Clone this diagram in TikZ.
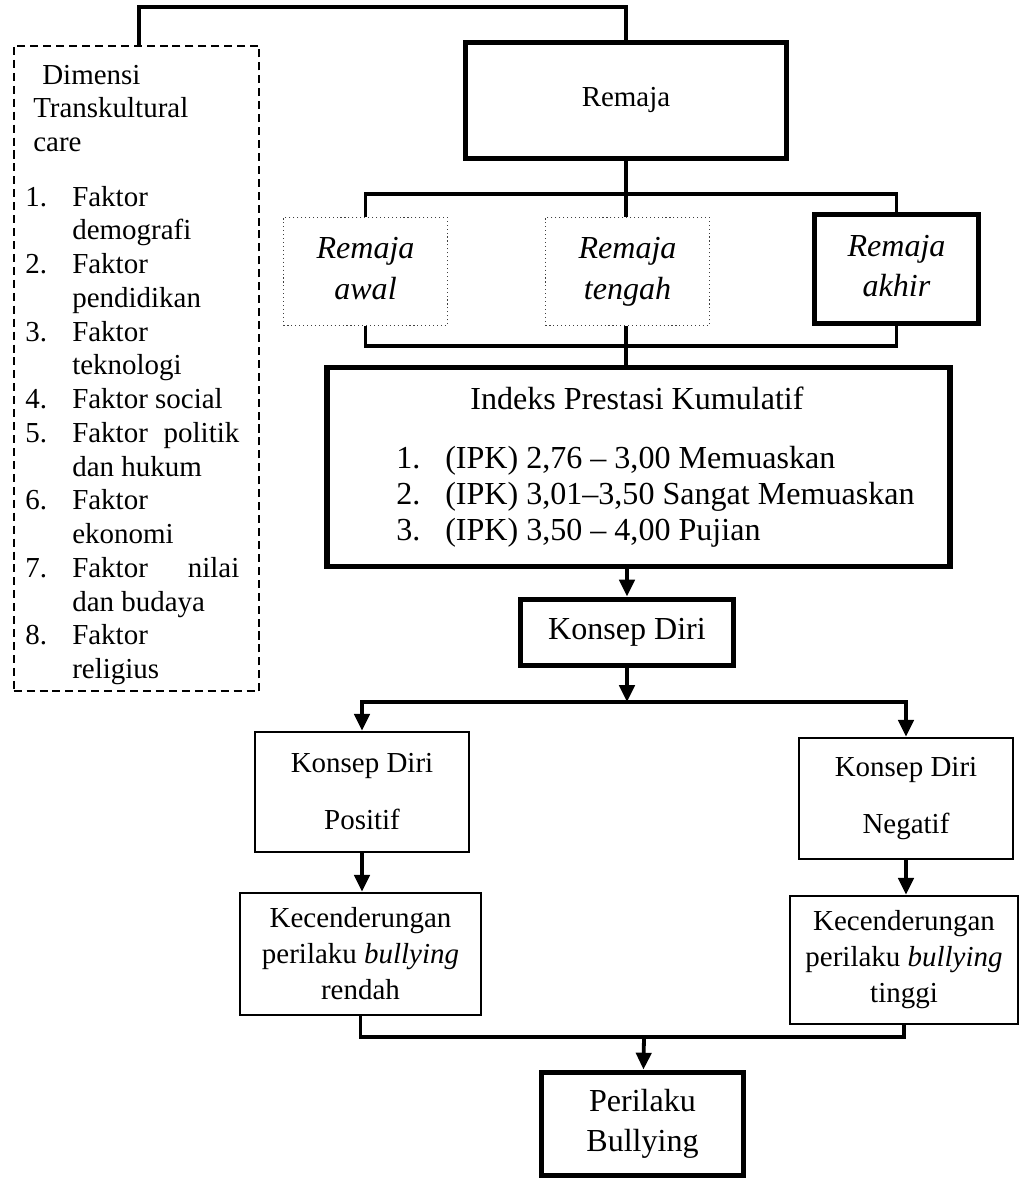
\documentclass[tikz,border=0pt]{standalone}
\usepackage{fontspec}
\setmainfont{Liberation Serif}
\usetikzlibrary{arrows.meta}

\newcommand{\txtfont}{\fontsize{20.6}{24}\selectfont}
\newcommand{\bigtxt}{\fontsize{22.8}{26}\selectfont}

\tikzset{
	connector/.style={line width=2.7pt},
	arrowline/.style={line width=2.7pt, -{Triangle[width=0.38cm,length=0.42cm]}},
	thickbox/.style={rectangle, draw, line width=4.2pt, text centered, align=center},
	thinbox/.style={rectangle, draw, line width=1.8pt, text centered, align=center},
	dotbox/.style={rectangle, draw=black!75, dotted, line width=0.8pt, text centered, align=center},
	dashbox/.style={rectangle, draw, dash pattern=on 5.7pt off 3.5pt, line width=1.3pt},
}

\begin{document}
\begin{tikzpicture}[x=0.025cm, y=-0.025cm]
		
		\useasboundingbox (0,0) rectangle (1019,1180);
		
		%Dimensi box
		\node (dimensi) at (136.5,368.5) [dashbox, minimum width=6.14cm, minimum height=16.14cm]{};
		\node (dimensiText) at (25,84) [anchor=base west, inner sep=0pt, font=\txtfont]{\parbox[t]{6cm}{%
			\hspace*{0.425cm}Dimensi\\
			\hspace*{0.2cm}Transkultural\\
			\hspace*{0.2cm}care\\[0.52cm]
			\makebox[1.175cm][l]{1.}Faktor\\
			\hspace*{1.175cm}demografi\\
			\makebox[1.175cm][l]{2.}Faktor\\
			\hspace*{1.175cm}pendidikan\\
			\makebox[1.175cm][l]{3.}Faktor\\
			\hspace*{1.175cm}teknologi\\
			\makebox[1.175cm][l]{4.}Faktor social\\
			\makebox[1.175cm][l]{5.}\makebox[4.175cm][s]{Faktor politik}\\
			\hspace*{1.175cm}dan hukum\\
			\makebox[1.175cm][l]{6.}Faktor\\
			\hspace*{1.175cm}ekonomi\\
			\makebox[1.175cm][l]{7.}\makebox[4.175cm][s]{Faktor nilai}\\
			\hspace*{1.175cm}dan budaya\\
			\makebox[1.175cm][l]{8.}Faktor\\
			\hspace*{1.175cm}religius}};
		
		%Remaja
		\node (remaja) at (626,100.5) [thickbox, minimum width=8.025cm, minimum height=2.9cm, font=\txtfont]{\raisebox{0.17cm}{Remaja}};
		
		%Three stages
		\node (awal) at (365.5,271.5) [dotbox, minimum width=4.1cm, minimum height=2.7cm, font=\bigtxt\itshape]{Remaja\strut\\[0.1cm]awal\strut};
		\node (tengah) at (627.5,271.5) [dotbox, minimum width=4.1cm, minimum height=2.7cm, font=\bigtxt\itshape]{Remaja\strut\\[0.1cm]tengah\strut};
		\node (akhir) at (896.5,269) [thickbox, minimum width=4.1cm, minimum height=2.725cm, font=\bigtxt\itshape]{Remaja\strut\\[0.1cm]akhir\strut};
		
		%IPK box
		\node (ipk) at (638.5,467) [thickbox, minimum width=15.55cm, minimum height=4.975cm]{};
		\node (ipkTitle) at (637,398) [font=\bigtxt]{Indeks Prestasi Kumulatif};
		\node (ipkList) at (396,468) [anchor=base west, inner sep=0pt, font=\bigtxt]{\parbox[t]{13cm}{\baselineskip=0.9cm
			\makebox[1.225cm][l]{1.}(IPK) 2,76 – 3,00 Memuaskan\\
			\makebox[1.225cm][l]{2.}(IPK) 3,01–3,50 Sangat Memuaskan\\
			\makebox[1.225cm][l]{3.}(IPK) 3,50 – 4,00 Pujian}};
		
		%Konsep diri
		\node (konsep) at (627,632.5) [thickbox, minimum width=5.325cm, minimum height=1.65cm, font=\bigtxt]{Konsep Diri};
		\node (positif) at (362,792) [thinbox, minimum width=5.35cm, minimum height=3cm, font=\fontsize{20.6}{40.5}\selectfont]{Konsep Diri\\Positif};
		\node (negatif) at (906,798.5) [thinbox, minimum width=5.35cm, minimum height=3.025cm, font=\fontsize{20.6}{40.5}\selectfont]{Konsep Diri\\Negatif};
		
		%Kecenderungan
		\node (rendah) at (360.5,954) [thinbox, minimum width=6.025cm, minimum height=3.05cm, font=\fontsize{20.6}{25.6}\selectfont]{Kecenderungan\\perilaku \textit{bullying}\\rendah};
		\node (tinggi) at (904,960) [thinbox, minimum width=5.7cm, minimum height=3.2cm, font=\fontsize{20.6}{25.6}\selectfont]{Kecenderungan\\perilaku \textit{bullying}\\tinggi};
		
		%Perilaku bullying
		\node (bullying) at (642.5,1124) [thickbox, minimum width=5.05cm, minimum height=2.575cm, font=\fontsize{22.8}{28.5}\selectfont]{Perilaku\\Bullying};
		
		%Connectors
		\coordinate (topL) at (139,7);
		\coordinate (topR) at (626,7);
		\coordinate (splitA) at (626,194);
		\coordinate (joinA) at (626,346);
		\coordinate (splitB) at (627,702);
		\coordinate (joinB) at (644,1037);
		
		\draw[connector] (dimensi.north -| topL) -- (topL) -- (topR) -- (remaja.north);
		\draw[connector] (remaja) -- (splitA);
		\draw[connector] (awal.north) |- (splitA) -| (akhir.north);
		\draw[connector] (splitA) -- (tengah.north -| splitA);
		\draw[connector] (awal.south) |- (joinA) -| (akhir.south);
		\draw[connector] (tengah.south -| joinA) -- (joinA) -- (ipk.north -| joinA);
		\draw[arrowline] (ipk.south -| konsep) -- (konsep);
		\draw[arrowline] (konsep) -- (splitB);
		\draw[arrowline] (splitB) -| (positif.north);
		\draw[arrowline] (splitB) -| (negatif.north);
		\draw[arrowline] (positif.south) -- (positif.south |- rendah.north);
		\draw[arrowline] (negatif.south) -- (negatif.south |- tinggi.north);
		\draw[connector] (rendah.south) |- (joinB) -| (tinggi.south);
		\draw[arrowline] (joinB) -- (bullying);
		
\end{tikzpicture}
\end{document}
